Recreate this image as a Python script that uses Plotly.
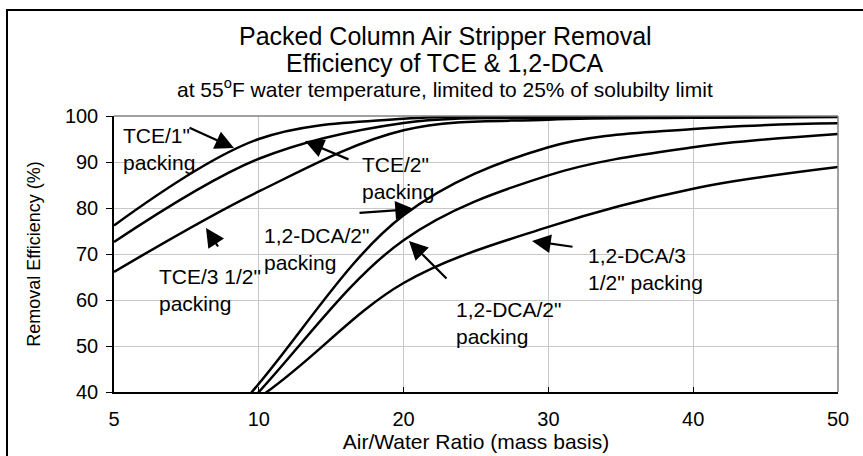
import plotly.graph_objects as go

# ---- data ----
air_water_ratio = ["5", "10", "20", "30", "40", "50"]
tce_1in = [76.2, 95.0, 99.4, 99.8, 99.9, 100.0]
tce_2in = [72.6, 90.7, 98.5, 99.6, 99.8, 99.9]
tce_3half_in = [66.1, 83.6, 96.9, 99.2, 99.6, 99.8]
dca_a = [3.0, 41.8, 78.4, 93.2, 97.2, 98.4]
dca_b = [4.0, 40.0, 73.0, 87.1, 93.2, 96.1]
dca_3half = [22.0, 38.8, 63.7, 75.9, 84.2, 88.9]

series = [tce_1in, tce_2in, tce_3half_in, dca_a, dca_b, dca_3half]

FONT = "Liberation Sans, Arial, sans-serif"

# plot-area pixel geometry used to place layout text
L, R, T, B = 114, 838, 116, 392
W_PX, H_PX = 863, 456


def px(x):
    return (x - L) / (R - L)


def py(y):
    return (B - y) / (B - T)


fig = go.Figure()
for s in series:
    fig.add_trace(go.Scatter(
        x=air_water_ratio, y=s, mode="lines",
        line=dict(color="black", width=2.5, shape="spline", smoothing=1.0),
        hoverinfo="skip", showlegend=False))

annotations = []

# titles
for text, ypix, size in [
    ("Packed Column Air Stripper Removal", 36, 25),
    ("Efficiency of TCE &amp; 1,2-DCA", 63, 25),
    ("at 55<sup>o</sup>F water temperature, limited to 25% of solubilty limit", 88, 21),
]:
    annotations.append(dict(text=text, xref="paper", yref="paper", x=px(445), y=py(ypix),
                            xanchor="center", yanchor="middle", showarrow=False,
                            font=dict(family=FONT, size=size, color="black")))

# curve labels (left-aligned, top anchored)
labels = [
    ("TCE/1\"<br>packing", 121, 122),
    ("TCE/2\"<br>packing", 360, 151),
    ("TCE/3 1/2\"<br>packing", 157, 263),
    ("1,2-DCA/2\"<br>packing", 262, 222),
    ("1,2-DCA/2\"<br>packing", 454, 296),
    ("1,2-DCA/3<br>1/2\" packing", 586, 242),
]
for text, xpix, ypix in labels:
    annotations.append(dict(text=text, xref="paper", yref="paper", x=px(xpix), y=py(ypix),
                            xanchor="left", yanchor="top", align="left", showarrow=False,
                            font=dict(family=FONT, size=21, color="black")))

# arrows: (tail_x, tail_y, head_x, head_y) in pixels
arrows = [
    (188, 127, 234, 148),
    (350, 160, 305, 141),
    (219, 248, 206, 228),
    (358, 213, 414, 209),
    (448, 280, 409, 241),
    (574, 247, 532, 241),
]
for tx, ty, hx, hy in arrows:
    annotations.append(dict(text="", xref="paper", yref="paper", x=px(hx), y=py(hy),
                            axref="pixel", ayref="pixel", ax=tx - hx, ay=ty - hy,
                            showarrow=True, arrowhead=2, arrowsize=1.7, arrowwidth=2.2,
                            arrowcolor="black"))

shapes = [
    # plot-area border (top and right, grey)
    dict(type="line", xref="paper", yref="paper", x0=0, x1=1, y0=1, y1=1,
         line=dict(color="#808080", width=1.5)),
    dict(type="line", xref="paper", yref="paper", x0=1, x1=1, y0=0, y1=1,
         line=dict(color="#808080", width=1.5)),
    # outer chart frame
    dict(type="rect", xref="paper", yref="paper", x0=px(7), x1=px(880), y0=py(475), y1=py(10),
         line=dict(color="black", width=2), fillcolor="rgba(0,0,0,0)"),
]

fig.update_layout(
    width=W_PX, height=H_PX,
    margin=dict(l=L, r=W_PX - R, t=T, b=H_PX - B, pad=0, autoexpand=False),
    paper_bgcolor="white", plot_bgcolor="white",
    showlegend=False,
    font=dict(family=FONT, color="black"),
    annotations=annotations,
    shapes=shapes,
    xaxis=dict(type="category", range=[0, 5], showgrid=True, gridcolor="#c8c8c8", gridwidth=1,
               showline=True, linecolor="black", linewidth=1.5,
               ticks="inside", ticklen=5, tickcolor="black", tickwidth=1,
               tickfont=dict(family=FONT, size=20, color="black"),
               ticklabelstandoff=8, automargin=False,
               title=dict(text="Air/Water Ratio (mass basis)", standoff=1,
                          font=dict(family=FONT, size=21, color="black")),
               zeroline=False, fixedrange=True),
    yaxis=dict(range=[40, 100], dtick=10, showgrid=True, gridcolor="#c8c8c8", gridwidth=1,
               showline=True, linecolor="black", linewidth=1.5,
               ticks="outside", ticklen=6, tickcolor="black", tickwidth=1,
               tickfont=dict(family=FONT, size=20, color="black"),
               ticklabelstandoff=4, automargin=False,
               title=dict(text="Removal Efficiency (%)", standoff=20,
                          font=dict(family=FONT, size=18, color="black")),
               zeroline=False, fixedrange=True),
)

fig.write_html("out.html", config={"displayModeBar": False},
               post_script="document.body.style.margin='0';")
